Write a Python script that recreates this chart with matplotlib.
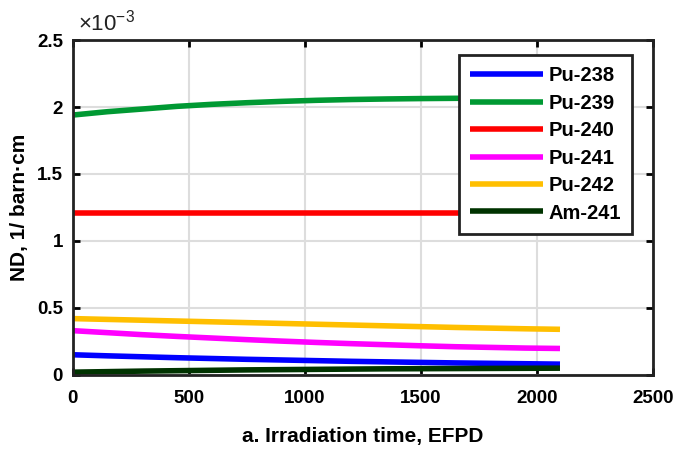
import numpy as np
import matplotlib
matplotlib.use("Agg")
from matplotlib import pyplot as plt

plt.rcParams['font.family'] = ['Liberation Sans', 'DejaVu Sans']
plt.rcParams['font.weight'] = 'bold'

# irradiation time, EFPD
t = [0, 150, 300, 450, 600, 750, 900, 1050, 1200, 1350, 1500, 1650, 1800, 1950, 2100]

# number densities, 1e-3 / barn.cm
pu238 = [0.150, 0.142, 0.135, 0.128, 0.122, 0.116, 0.111, 0.106, 0.101, 0.097, 0.093, 0.089, 0.086, 0.083, 0.080]
pu239 = [1.940, 1.965, 1.985, 2.005, 2.020, 2.032, 2.042, 2.050, 2.056, 2.060, 2.063, 2.065, 2.066, 2.067, 2.068]
pu240 = [1.205, 1.205, 1.205, 1.205, 1.205, 1.205, 1.205, 1.205, 1.205, 1.205, 1.205, 1.205, 1.205, 1.205, 1.205]
pu241 = [0.330, 0.315, 0.300, 0.287, 0.275, 0.263, 0.252, 0.242, 0.233, 0.225, 0.217, 0.210, 0.205, 0.200, 0.197]
pu242 = [0.420, 0.414, 0.408, 0.402, 0.396, 0.390, 0.384, 0.378, 0.372, 0.366, 0.360, 0.354, 0.349, 0.344, 0.340]
am241 = [0.020, 0.024, 0.028, 0.031, 0.034, 0.037, 0.039, 0.041, 0.043, 0.045, 0.046, 0.047, 0.048, 0.049, 0.050]

names = ['Pu-238', 'Pu-239', 'Pu-240', 'Pu-241', 'Pu-242', 'Am-241']
series = [pu238, pu239, pu240, pu241, pu242, am241]
colors = ['#0000ff', '#009933', '#ff0000', '#ff00ff', '#ffbf00', '#003300']

fig = plt.figure(figsize=(6.73, 4.5), dpi=100)
ax = fig.add_axes([0.108, 0.167, 0.862, 0.744])

for name, y, c in zip(names, series, colors):
    ax.plot(t, np.array(y) * 1e-3, color=c, lw=4, label=name, solid_capstyle='butt')

ax.set_xlim(0, 2500)
ax.set_ylim(0, 2.5e-3)
ax.set_xticks([0, 500, 1000, 1500, 2000, 2500])
ax.set_yticks([0, 0.5e-3, 1e-3, 1.5e-3, 2e-3, 2.5e-3])
ax.set_yticklabels(['0', '0.5', '1', '1.5', '2', '2.5'])
ax.grid(True, color='#dddddd', lw=1.5)
ax.set_axisbelow(True)
ax.tick_params(direction='in', top=True, right=True, length=5, width=2,
               labelsize=13.5, pad=7)
ax.tick_params(axis='x', pad=11)
for s in ax.spines.values():
    s.set_linewidth(2)
    s.set_color('#222222')

ax.text(0.01, 1.015, r'$\mathregular{\times10^{-3}}$', transform=ax.transAxes, fontsize=16,
        ha='left', va='bottom', color='#222222', fontweight='normal')

ax.set_xlabel('a. Irradiation time, EFPD', fontsize=15, fontweight='bold', labelpad=14)
ax.set_ylabel('ND, 1/ barn·cm', fontsize=15, fontweight='bold', labelpad=6)

leg = ax.legend(loc='upper right', bbox_to_anchor=(0.982, 0.985), fontsize=14.5,
                frameon=True, fancybox=False, framealpha=1, handlelength=3.6,
                labelspacing=0.42, borderpad=0.55, handletextpad=0.3)
leg.get_frame().set_edgecolor('#222222')
leg.get_frame().set_linewidth(2)
for txt in leg.get_texts():
    txt.set_fontweight('bold')

fig.savefig('out.png', dpi=100)
